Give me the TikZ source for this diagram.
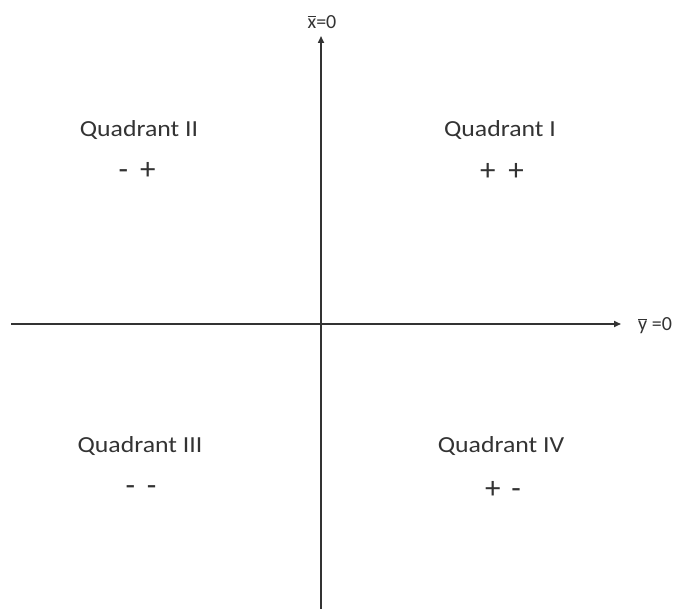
\documentclass[tikz,border=0pt]{standalone}
\usepackage{fontspec}
\setmainfont{Carlito}
\usetikzlibrary{arrows.meta}
\newcommand{\barred}[1]{{\setbox0\hbox{#1}\rlap{\raisebox{\dimexpr\ht0+1.5pt\relax}{\rule{\wd0}{0.9pt}}}#1}}
\begin{document}
\begin{tikzpicture}[x=1pt,y=-1pt,
  axis/.style={line width=1.6pt,draw=black!80,-{Triangle[length=7pt,width=6pt]}},
  lbl/.style={font=\fontsize{23}{26}\selectfont,text=black!80,inner sep=0pt},
  small/.style={font=\fontsize{20}{22}\selectfont,text=black!80,inner sep=0pt},
  sgn/.style={font=\fontsize{31}{33}\selectfont,text=black!80,inner sep=0pt}]
\useasboundingbox (0,0) rectangle (687,609);
\coordinate (hs) at (11,324);
\coordinate (he) at (621,324);
\coordinate (vs) at (321,609);
\coordinate (ve) at (321,36);
\draw[axis] (hs) -- (he);
\draw[axis] (vs) -- (ve);
\node[small] (xl) at (322,22) {\barred{x}=0};
\node[small,anchor=west] (yl) at (638,326) {\barred{y} =0};
\node[lbl] (q2) at (139,130) {\scalebox{1.12}[1]{Quadrant II}};
\node[sgn] (s2) at (137,171) {-\hspace{12pt}+};
\node[lbl] (q1) at (500,130) {\scalebox{1.12}[1]{Quadrant I}};
\node[sgn] (s1) at (502,172) {+\hspace{13pt}+};
\node[lbl] (q3) at (140,446) {\scalebox{1.12}[1]{Quadrant III}};
\node[sgn] (s3) at (141,491) {-\hspace{12pt}-};
\node[lbl] (q4) at (501,446) {\scalebox{1.12}[1]{Quadrant IV}};
\node[sgn] (s4) at (503,490) {+\hspace{11pt}-};
\end{tikzpicture}
\end{document}
